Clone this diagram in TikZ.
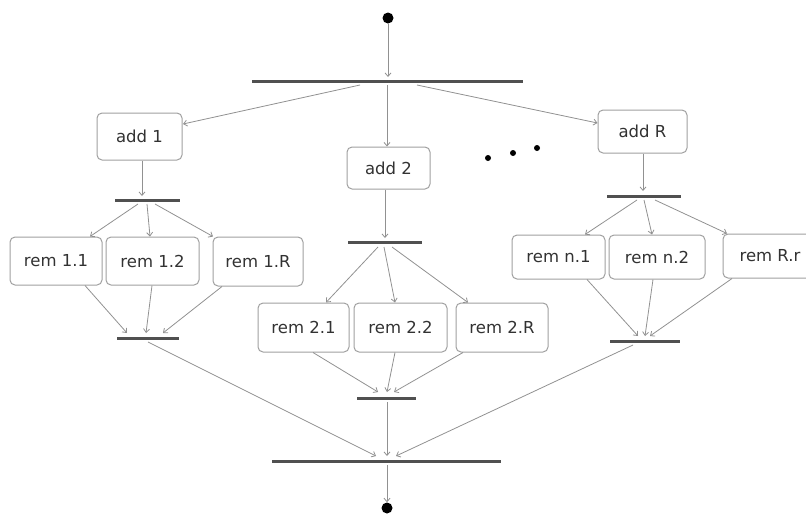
\documentclass[tikz,border=0pt]{standalone}
\usepackage{fontspec}
\setmainfont{DejaVu Sans}
\usetikzlibrary{arrows.meta,calc}
\definecolor{boxline}{RGB}{160,160,160}
\definecolor{arrline}{RGB}{145,145,145}
\definecolor{barcol}{RGB}{80,80,80}
\definecolor{txt}{RGB}{50,50,50}
\begin{document}
\begin{tikzpicture}[x=1pt,y=-1pt,
  box/.style={draw=boxline, line width=1pt, rounded corners=5pt, text=txt,
    font=\fontsize{16.5}{18}\selectfont, inner sep=0pt, minimum height=46pt},
  bar/.style={fill=barcol, inner sep=0pt, minimum height=3pt},
  conn/.style={draw=arrline, line width=0.8pt, -{Straight Barb[length=3.5pt,width=6pt]}},
  bigdot/.style={circle, fill=black, inner sep=0pt, minimum size=11pt},
  smalldot/.style={circle, fill=black, inner sep=0pt, minimum size=6pt}]
\useasboundingbox (0,0) rectangle (806,515);
\clip (0,0) rectangle (806,515);
% start / end
\node[bigdot] (start) at (388,18) {};
\node[bigdot] (end) at (387,508) {};
% bars
\node[bar, minimum width=271pt] (fork0) at (387.5,81) {};
\node[bar, minimum width=65pt] (b1a) at (147.5,200) {};
\node[bar, minimum width=62pt] (b1b) at (148,338) {};
\node[bar, minimum width=74pt] (b2a) at (385,242) {};
\node[bar, minimum width=59pt] (b2b) at (386.5,398) {};
\node[bar, minimum width=74pt] (bRa) at (644,196) {};
\node[bar, minimum width=70pt] (bRb) at (645,341) {};
\node[bar, minimum width=229pt] (final) at (386.5,461) {};
% boxes
\node[box, minimum width=85pt, minimum height=47pt] (add1) at (139.5,136.5) {add 1};
\node[box, minimum width=83pt, minimum height=42pt] (add2) at (388.5,168) {add 2};
\node[box, minimum width=89pt, minimum height=43pt] (addR) at (642.5,131.5) {add R};
\node[box, minimum width=92pt, minimum height=48pt] (rem11) at (56,261) {rem 1.1};
\node[box, minimum width=93pt, minimum height=48pt] (rem12) at (152.5,261) {rem 1.2};
\node[box, minimum width=90pt, minimum height=49pt] (rem1R) at (258,261.5) {rem 1.R};
\node[box, minimum width=91pt, minimum height=49pt] (rem21) at (303.5,327.5) {rem 2.1};
\node[box, minimum width=93pt, minimum height=49pt] (rem22) at (400.5,327.5) {rem 2.2};
\node[box, minimum width=92pt, minimum height=49pt] (rem2R) at (502,327.5) {rem 2.R};
\node[box, minimum width=93pt, minimum height=44pt] (remn1) at (558.5,257) {rem n.1};
\node[box, minimum width=96pt, minimum height=44pt] (remn2) at (657,257) {rem n.2};
\node[box, minimum width=94pt, minimum height=44pt] (remRr) at (770,256) {rem R.r};
% ellipsis
\node[smalldot] (d1) at (488,158) {};
\node[smalldot] (d2) at (513,153) {};
\node[smalldot] (d3) at (537,148) {};
% connectors
\draw[conn] (start.south) -- ($(fork0)+(0.5,-4)$);
\draw[conn] ($(fork0)+(-27.5,4)$) -- ($(add1.east)+(0.5,-12.5)$);
\draw[conn] ($(fork0)+(-0.5,4)$) -- ($(add2.north)+(-1.5,0)$);
\draw[conn] ($(fork0)+(29.5,4)$) -- ($(addR.west)+(0,-8.5)$);
% branch 1
\draw[conn] ($(add1.south)+(2.5,0)$) -- ($(b1a)+(-5.5,-4)$);
\draw[conn] ($(b1a)+(-9.5,4)$) -- ($(rem11.north)+(34,0)$);
\draw[conn] ($(b1a)+(-0.5,4)$) -- ($(rem12.north)+(-2.5,0)$);
\draw[conn] ($(b1a)+(7.5,4)$) -- ($(rem1R.north)+(-45,0)$);
\draw[conn] ($(rem11.south)+(29,0)$) -- ($(b1b)+(-21,-5)$);
\draw[conn] ($(rem12.south)+(-0.5,0)$) -- ($(b1b)+(-2,-5)$);
\draw[conn] ($(rem1R.south)+(-36,0)$) -- ($(b1b)+(15,-5)$);
% branch 2
\draw[conn] ($(add2.south)+(-3.5,0)$) -- ($(b2a)+(0,-4)$);
\draw[conn] ($(b2a)+(-7,5)$) -- ($(rem21.north)+(22.5,0)$);
\draw[conn] ($(b2a)+(-1,5)$) -- ($(rem22.north)+(-5.5,0)$);
\draw[conn] ($(b2a)+(7,5)$) -- ($(rem2R.north)+(-34,0)$);
\draw[conn] ($(rem21.south)+(9.5,0)$) -- ($(b2b)+(-8.5,-6)$);
\draw[conn] ($(rem22.south)+(-5.5,0)$) -- ($(b2b)+(0.5,-6)$);
\draw[conn] ($(rem2R.south)+(-39,0)$) -- ($(b2b)+(7.5,-6)$);
% branch R
\draw[conn] ($(addR.south)+(0.5,0)$) -- ($(bRa)+(-1,-5)$);
\draw[conn] ($(bRa)+(-7,4)$) -- ($(remn1.north)+(26.5,0)$);
\draw[conn] ($(bRa)+(0,4)$) -- ($(remn2.north)+(-5,0)$);
\draw[conn] ($(bRa)+(11,4)$) -- ($(remRr.north)+(-43,0)$);
\draw[conn] ($(remn1.south)+(28.5,0)$) -- ($(bRb)+(-7,-5)$);
\draw[conn] ($(remn2.south)+(-4,0)$) -- ($(bRb)+(0,-5)$);
\draw[conn] ($(remRr.south)+(-38,0)$) -- ($(bRb)+(5,-5)$);
% final join
\draw[conn] ($(b1b)+(0,4)$) -- ($(final)+(-10.5,-5)$);
\draw[conn] ($(b2b)+(0.5,4)$) -- ($(final)+(0.5,-5)$);
\draw[conn] ($(bRb)+(-12,4)$) -- ($(final)+(9.5,-5)$);
\draw[conn] ($(final)+(0.5,4)$) -- (end.north);
\end{tikzpicture}
\end{document}
